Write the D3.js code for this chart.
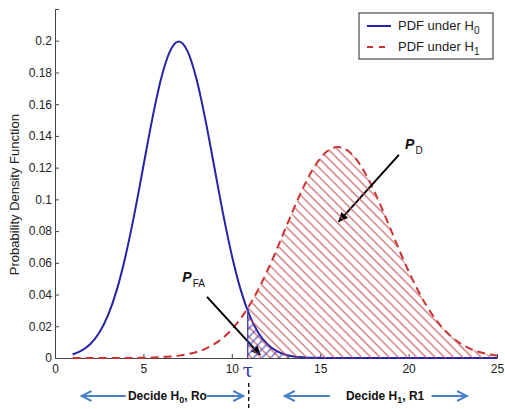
<!DOCTYPE html>
<html>
<head>
<meta charset="utf-8">
<script src="https://cdn.jsdelivr.net/npm/d3@7"></script>
<style>
  body { margin: 0; background: #fff; }
  svg { display: block; font-family: "Liberation Sans", Arial, sans-serif; }
</style>
</head>
<body>
<div class="chart"></div>
<script>
var svgWidth = 505;
var svgHeight = 409;

var margin = { top: 9, right: 8, bottom: 51, left: 55 };
var width = svgWidth - margin.left - margin.right;
var height = svgHeight - margin.top - margin.bottom;

// x positions of the sampled curves
var xValues = [1, 1.5, 2, 2.5, 3, 3.5, 4, 4.5, 5, 5.5, 6, 6.5, 7, 7.5, 8, 8.5, 9, 9.5, 10, 10.5,
  11, 11.5, 12, 12.5, 13, 13.5, 14, 14.5, 15, 15.5, 16, 16.5, 17, 17.5, 18, 18.5, 19, 19.5, 20,
  20.5, 21, 21.5, 22, 22.5, 23, 23.5, 24, 24.5, 25];

// PDF under H0
var pdfH0 = [0.0022, 0.0046, 0.0088, 0.0159, 0.0270, 0.0431, 0.0648, 0.0913, 0.1210, 0.1506,
  0.1760, 0.1933, 0.1995, 0.1933, 0.1760, 0.1506, 0.1210, 0.0913, 0.0648, 0.0431,
  0.0270, 0.0159, 0.0088, 0.0046, 0.0022, 0.0010, 0.0004, 0.0002, 0.0001, 0,
  0, 0, 0, 0, 0, 0, 0, 0, 0, 0, 0, 0, 0, 0, 0, 0, 0, 0, 0];

// PDF under H1
var pdfH1 = [0, 0, 0, 0, 0, 0, 0, 0.0001, 0.0002, 0.0003,
  0.0005, 0.0009, 0.0015, 0.0024, 0.0038, 0.0058, 0.0087, 0.0127, 0.0180, 0.0248,
  0.0332, 0.0432, 0.0547, 0.0673, 0.0807, 0.0940, 0.1065, 0.1174, 0.1258, 0.1312,
  0.1330, 0.1312, 0.1258, 0.1174, 0.1065, 0.0940, 0.0807, 0.0673, 0.0547, 0.0432,
  0.0332, 0.0248, 0.0180, 0.0127, 0.0087, 0.0058, 0.0038, 0.0024, 0.0015];

var threshold = 10.9;

var xTicks = [0, 5, 10, 15, 20, 25];
var yTicks = [0, 0.02, 0.04, 0.06, 0.08, 0.1, 0.12, 0.14, 0.16, 0.18, 0.2];
var legendLabels = ["H", "H"];
var legendSubs = ["0", "1"];

var blue = "#2424a8";
var red = "#cc3030";
var arrowBlue = "#4a82c6";

var svg = d3.select(".chart")
  .append("svg")
  .attr("width", svgWidth)
  .attr("height", svgHeight);

var defs = svg.append("defs");

// hatch patterns
defs.append("pattern")
  .attr("id", "hatchRed")
  .attr("patternUnits", "userSpaceOnUse")
  .attr("width", 6.5).attr("height", 6.5)
  .attr("patternTransform", "rotate(-45)")
  .append("line")
  .attr("x1", 3).attr("y1", 0).attr("x2", 3).attr("y2", 6.5)
  .attr("stroke", "#c65656").attr("stroke-width", 1.1);

defs.append("pattern")
  .attr("id", "hatchBlue")
  .attr("patternUnits", "userSpaceOnUse")
  .attr("width", 6).attr("height", 6)
  .attr("patternTransform", "rotate(45)")
  .append("line")
  .attr("x1", 3).attr("y1", 0).attr("x2", 3).attr("y2", 6)
  .attr("stroke", "#4444c0").attr("stroke-width", 1.1);

// arrow markers
defs.append("marker")
  .attr("id", "headBlack")
  .attr("viewBox", "0 -5 10 10")
  .attr("refX", 9).attr("refY", 0)
  .attr("markerUnits", "userSpaceOnUse")
  .attr("markerWidth", 10).attr("markerHeight", 10)
  .attr("orient", "auto")
  .append("path")
  .attr("d", "M0,-4.5L10,0L0,4.5Z")
  .attr("fill", "#000");

defs.append("marker")
  .attr("id", "headBlue")
  .attr("viewBox", "0 -6 12 12")
  .attr("refX", 10).attr("refY", 0)
  .attr("markerUnits", "userSpaceOnUse")
  .attr("markerWidth", 12).attr("markerHeight", 12)
  .attr("orient", "auto")
  .append("path")
  .attr("d", "M0,-5L10,0L0,5")
  .attr("fill", "none")
  .attr("stroke", arrowBlue)
  .attr("stroke-width", 2);

var chartGroup = svg.append("g")
  .attr("transform", `translate(${margin.left}, ${margin.top})`);

var xScale = d3.scaleLinear().domain([0, 25]).range([0, width]);
var yScale = d3.scaleLinear().domain([0, 0.22]).range([height, 0]);

var h0Data = xValues.map((x, i) => ({ x: x, y: pdfH0[i] }));
var h1Data = xValues.map((x, i) => ({ x: x, y: pdfH1[i] }));

var line = d3.line()
  .x(d => xScale(d.x))
  .y(d => yScale(d.y))
  .curve(d3.curveMonotoneX);

var area = d3.area()
  .x(d => xScale(d.x))
  .y0(yScale(0))
  .y1(d => yScale(d.y))
  .curve(d3.curveMonotoneX);

defs.append("clipPath")
  .attr("id", "rightOfTau")
  .append("rect")
  .attr("x", margin.left + xScale(threshold))
  .attr("y", 0)
  .attr("width", xScale(25) - xScale(threshold))
  .attr("height", margin.top + height);

defs.append("clipPath")
  .attr("id", "underH1")
  .append("path")
  .attr("transform", `translate(${margin.left}, ${margin.top})`)
  .attr("d", area(h1Data));

// hatched regions
var hatchGroup = svg.append("g")
  .attr("clip-path", "url(#rightOfTau)")
  .append("g")
  .attr("transform", `translate(${margin.left}, ${margin.top})`);

hatchGroup.append("path")
  .attr("d", area(h1Data))
  .attr("fill", "url(#hatchRed)");

hatchGroup.append("path")
  .attr("d", area(h0Data))
  .attr("fill", "url(#hatchBlue)");

// boundary at the threshold
svg.append("g")
  .attr("clip-path", "url(#underH1)")
  .append("line")
  .attr("x1", margin.left + xScale(threshold))
  .attr("x2", margin.left + xScale(threshold))
  .attr("y1", margin.top)
  .attr("y2", margin.top + height)
  .attr("stroke", "#4040b8")
  .attr("stroke-width", 1.3);

// axes
var bottomAxis = d3.axisBottom(xScale)
  .tickValues(xTicks)
  .tickSize(-4)
  .tickPadding(6)
  .tickFormat(d3.format("~g"));

var leftAxis = d3.axisLeft(yScale)
  .tickValues(yTicks)
  .tickSize(-4)
  .tickPadding(3)
  .tickFormat(d3.format("~g"));

var xAxisG = chartGroup.append("g")
  .attr("transform", `translate(0, ${height})`)
  .call(bottomAxis);

var yAxisG = chartGroup.append("g")
  .call(leftAxis);

[xAxisG, yAxisG].forEach(function(g) {
  g.select(".domain").attr("stroke", "#444").attr("stroke-width", 1);
  g.selectAll(".tick line").attr("stroke", "#444");
  g.selectAll(".tick text")
    .attr("fill", "#222")
    .style("font-size", "12px")
    .style("font-family", "Liberation Sans, Arial, sans-serif");
});

// curves
chartGroup.append("path")
  .attr("d", line(h1Data))
  .attr("fill", "none")
  .attr("stroke", red)
  .attr("stroke-width", 2)
  .attr("stroke-dasharray", "8,5");

chartGroup.append("path")
  .attr("d", line(h0Data))
  .attr("fill", "none")
  .attr("stroke", blue)
  .attr("stroke-width", 2);

// y axis label
chartGroup.append("text")
  .attr("transform", "rotate(-90)")
  .attr("x", -(yScale(0.103)))
  .attr("y", -margin.left + 19)
  .attr("text-anchor", "middle")
  .attr("fill", "#222")
  .style("font-size", "13px")
  .text("Probability Density Function");

// legend
var legend = svg.append("g").attr("transform", "translate(359, 13)");
legend.append("rect")
  .attr("width", 134).attr("height", 46)
  .attr("fill", "#fff").attr("stroke", "#222").attr("stroke-width", 1);

legendLabels.forEach(function(lbl, i) {
  var yy = 13 + i * 21;
  legend.append("line")
    .attr("x1", 8).attr("x2", 32).attr("y1", yy).attr("y2", yy)
    .attr("stroke", i === 0 ? blue : red)
    .attr("stroke-width", 2)
    .attr("stroke-dasharray", i === 0 ? null : "6,6");
  var t = legend.append("text")
    .attr("x", 39).attr("y", yy + 4)
    .attr("fill", "#222")
    .style("font-size", "13px");
  t.append("tspan").text("PDF under " + lbl);
  t.append("tspan").attr("dy", 4).style("font-size", "10px").text(legendSubs[i]);
});

// P_FA and P_D annotations
function label(x, y, main, sub) {
  var t = chartGroup.append("text")
    .attr("x", xScale(x)).attr("y", yScale(y))
    .attr("fill", "#111");
  t.append("tspan").style("font-size", "14px").style("font-weight", "bold")
    .style("font-style", "italic").text(main);
  t.append("tspan").attr("dy", 5).attr("dx", 1).style("font-size", "10px").text(sub);
}
label(7.2, 0.048, "P", "FA");
label(19.8, 0.132, "P", "D");

function blackArrow(x1, y1, x2, y2) {
  chartGroup.append("line")
    .attr("x1", xScale(x1)).attr("y1", yScale(y1))
    .attr("x2", xScale(x2)).attr("y2", yScale(y2))
    .attr("stroke", "#000").attr("stroke-width", 2)
    .attr("marker-end", "url(#headBlack)");
}
blackArrow(8.6, 0.0385, 11.6, 0.002);
blackArrow(19.45, 0.128, 16.05, 0.086);

// tau marker and decision regions below the axis
chartGroup.append("text")
  .attr("x", xScale(threshold))
  .attr("y", height + 19)
  .attr("text-anchor", "middle")
  .attr("fill", "#2a3ab0")
  .style("font-family", "DejaVu Serif, serif")
  .style("font-size", "19px")
  .text("τ");

chartGroup.append("line")
  .attr("x1", xScale(threshold) + 1).attr("x2", xScale(threshold) + 1)
  .attr("y1", height + 25).attr("y2", svgHeight - margin.top)
  .attr("stroke", "#000").attr("stroke-width", 1.3)
  .attr("stroke-dasharray", "4,3");

var arrowY = height + 38;
function blueArrow(x1, x2) {
  chartGroup.append("line")
    .attr("x1", xScale(x1)).attr("x2", xScale(x2))
    .attr("y1", arrowY).attr("y2", arrowY)
    .attr("stroke", arrowBlue).attr("stroke-width", 2)
    .attr("marker-end", "url(#headBlue)");
}
blueArrow(4.0, 1.5);
blueArrow(8.6, 10.65);
blueArrow(15.55, 13.0);
blueArrow(21.3, 23.3);

function decideText(x, sub, tail) {
  var t = chartGroup.append("text")
    .attr("x", xScale(x)).attr("y", arrowY + 4)
    .attr("text-anchor", "middle")
    .attr("fill", "#111")
    .style("font-family", "Liberation Sans Narrow, Arial Narrow, sans-serif")
    .style("font-weight", "bold")
    .style("font-size", "12px");
  t.append("tspan").text("Decide H");
  t.append("tspan").attr("dy", 3).style("font-size", "9px").text(sub);
  t.append("tspan").attr("dy", -3).text(", " + tail);
}
decideText(6.36, "0", "Ro");
decideText(18.67, "1", "R1");
</script>
</body>
</html>
